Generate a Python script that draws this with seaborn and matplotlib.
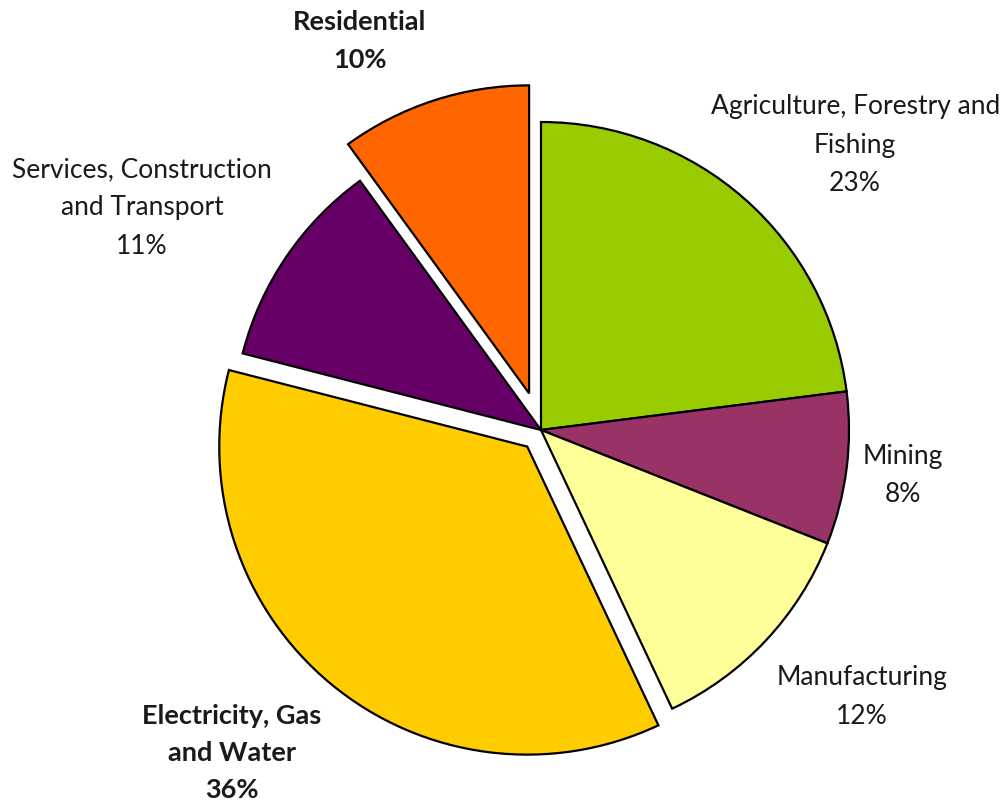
import matplotlib
matplotlib.use("Agg")
import matplotlib.pyplot as plt
import seaborn as sns

sns.set_style("white")
plt.rcParams['font.family'] = ['Lato', 'DejaVu Sans']

categories = ["Agriculture, Forestry and\nFishing", "Mining", "Manufacturing",
              "Electricity, Gas\nand Water", "Services, Construction\nand Transport", "Residential"]
values = [23, 8, 12, 36, 11, 10]
colors = ["#99CC00", "#993366", "#FFFF99", "#FFCC00", "#660066", "#FF6600"]
explode = [0, 0, 0, 0.07, 0, 0.125]
bold = [False, False, False, True, False, True]
# label block centres (data units, pie radius = 1)
label_pos = [(1.020, 0.925), (1.174, -0.149), (1.042, -0.867),
             (-1.003, -1.049), (-1.295, 0.721), (-0.588, 1.263)]

fig = plt.figure(figsize=(10.08, 8.02), dpi=100)
ax = fig.add_axes([0, 0, 1, 1])
wedges, _ = ax.pie(values, colors=colors, explode=explode, startangle=90,
                   counterclock=False, radius=1.0,
                   wedgeprops=dict(edgecolor="black", linewidth=1.6))
for cat, v, (x, y), b in zip(categories, values, label_pos, bold):
    ax.text(x, y, f"{cat}\n{v}%", ha="center", va="center",
            fontsize=19 if not b else 19.5,
            fontweight="bold" if b else "normal", color="#1a1a1a",
            linespacing=1.66)

ax.set_aspect("auto")
ax.set_xlim(-541 / 308, (1008 - 541) / 308)
ax.set_ylim(-(802 - 430) / 308, 430 / 308)
ax.axis("off")
fig.savefig("out.png", dpi=100, facecolor="white")
